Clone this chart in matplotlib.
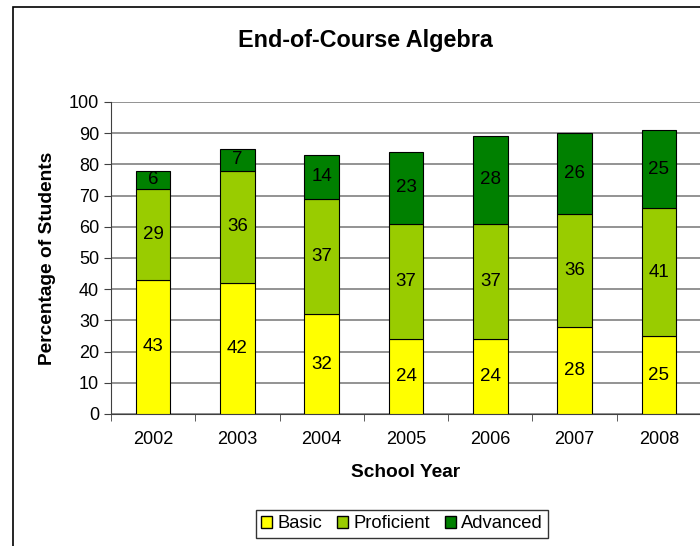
import numpy as np
import matplotlib.pyplot as plt
from matplotlib.patches import Rectangle, Patch

plt.rcParams['font.family'] = ['Liberation Sans', 'DejaVu Sans']

years = ['2002', '2003', '2004', '2005', '2006', '2007', '2008']
basic = [43, 42, 32, 24, 24, 28, 25]
proficient = [29, 36, 37, 37, 37, 36, 41]
advanced = [6, 7, 14, 23, 28, 26, 25]

colors = {'Basic': '#FFFF00', 'Proficient': '#99CC00', 'Advanced': '#008000'}

fig = plt.figure(figsize=(7, 5.46), dpi=100)
# outer chart frame (cut off at right and bottom)
fig.patches.append(Rectangle((13 / 700, -0.05), 1.1, (546 - 7) / 546 + 0.05,
                             transform=fig.transFigure, fill=False,
                             edgecolor='black', linewidth=1.2))

ax = fig.add_axes([111 / 700, 132 / 546, 590 / 700, 312 / 546])
x = np.arange(len(years))
w = 0.41

b1 = ax.bar(x, basic, w, color=colors['Basic'], edgecolor='black', linewidth=0.8, zorder=3)
b2 = ax.bar(x, proficient, w, bottom=basic, color=colors['Proficient'],
            edgecolor='black', linewidth=0.8, zorder=3)
bottom2 = np.array(basic) + np.array(proficient)
b3 = ax.bar(x, advanced, w, bottom=bottom2, color=colors['Advanced'],
            edgecolor='black', linewidth=0.8, zorder=3)

for vals, bots in [(basic, [0] * 7), (proficient, basic), (advanced, bottom2)]:
    for xi, v, b in zip(x, vals, bots):
        ax.text(xi, b + v / 2, str(v), ha='center', va='center', fontsize=13.5, zorder=4)

ax.set_xlim(-0.5, 6.5)
ax.set_ylim(0, 100)
ax.set_yticks(range(0, 101, 10))
ax.yaxis.grid(True, color='#808080', linewidth=1.2, zorder=0)
ax.set_xticks(x)
ax.set_xticklabels(years)
ax.set_xticks(np.arange(-0.5, 7, 1), minor=True)
ax.tick_params(axis='x', which='major', length=0, labelsize=13, pad=12)
ax.tick_params(axis='x', which='minor', length=5, direction='out', color='#404040')
ax.tick_params(axis='y', length=5, direction='out', labelsize=13, color='#404040')
for s in ['top', 'right']:
    ax.spines[s].set_visible(False)
ax.spines['left'].set_color('#404040')
ax.spines['bottom'].set_color('#404040')

ax.set_ylabel('Percentage of Students', fontsize=13.8, fontweight='bold', labelpad=9)
ax.set_xlabel('School Year', fontsize=13.8, fontweight='bold', labelpad=12)

fig.text(365 / 700, 1 - 40 / 546, 'End-of-Course Algebra', ha='center', va='center',
         fontsize=16.8, fontweight='bold')

handles = [Patch(facecolor=colors[k], edgecolor='black', label=k) for k in colors]
leg = fig.legend(handles=handles, loc='center', bbox_to_anchor=(402 / 700, 1 - 524 / 546),
                 ncol=3, frameon=True, fancybox=False, fontsize=13.2, handlelength=0.6,
                 handleheight=0.6, handletextpad=0.3, columnspacing=0.8,
                 borderpad=0.3)
leg.get_frame().set_edgecolor('black')
leg.get_frame().set_linewidth(1.0)

fig.savefig('out.png', dpi=100)
